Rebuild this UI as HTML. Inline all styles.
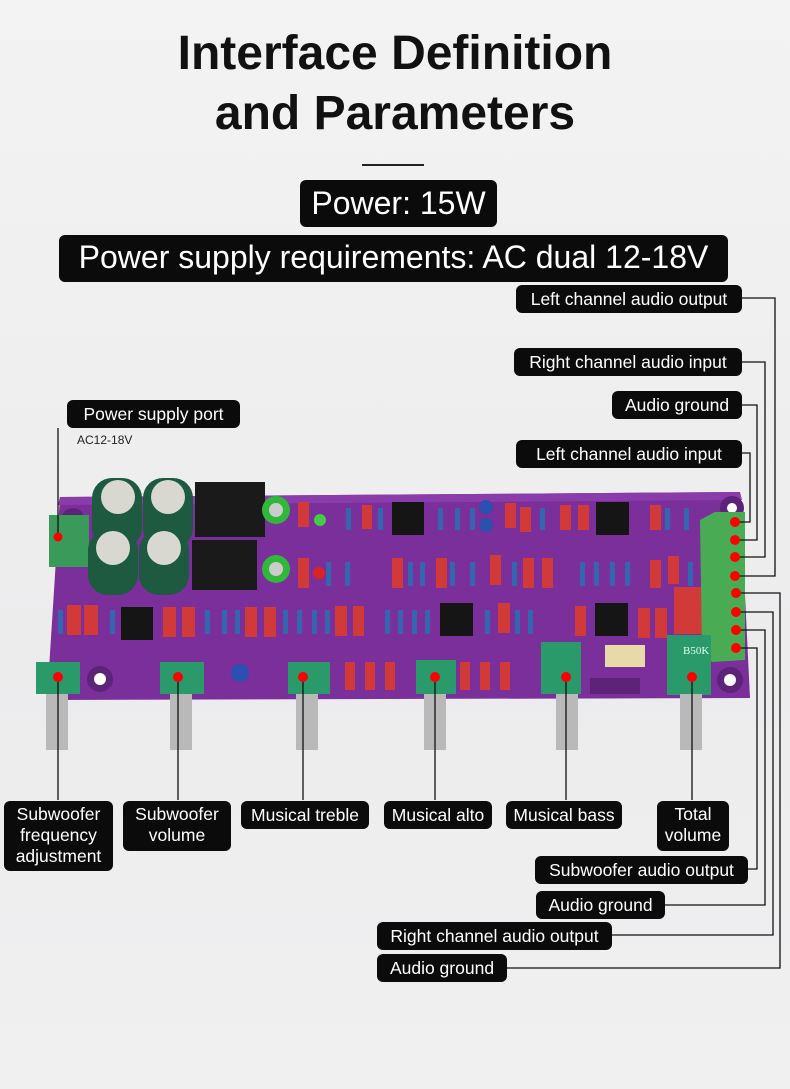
<!DOCTYPE html>
<html><head><style>
body{margin:0;width:790px;height:1089px;overflow:hidden;background:linear-gradient(180deg,#f3f3f3,#ececed 60%,#f0f0f1);font-family:"Liberation Sans",sans-serif;position:relative}
.t{position:absolute;left:0;width:790px;text-align:center;font-size:48px;color:#111;font-weight:bold}
.b{position:absolute;background:#0b0b0b;color:#fff;border-radius:6px;text-align:center;white-space:nowrap}
.s{font-size:17.5px;line-height:22px;padding:3px 0}
.w{white-space:normal}
</style></head><body>
<div class="t" style="top:26px">Interface Definition</div>
<div class="t" style="top:86px">and Parameters</div>
<div style="position:absolute;left:362px;top:164px;width:62px;height:2px;background:#222"></div>
<div class="b" style="left:300px;top:180px;width:197px;height:47px;line-height:47px;font-size:32px">Power: 15W</div>
<div class="b" style="left:59px;top:235px;width:669px;height:47px;line-height:44px;font-size:32px">Power supply requirements: AC dual 12-18V</div>

<svg style="position:absolute;left:0;top:0" width="790" height="1089">
<polygon points="60,497 740,492 750,698 47,700" fill="#7a2f9a"/>
<polygon points="60,497 740,492 742,500 58,505" fill="#8a3caa"/>
<circle cx="73" cy="520" r="12" fill="#5d2378"/><circle cx="73" cy="520" r="5" fill="#fff"/>
<circle cx="732" cy="508" r="12" fill="#5d2378"/><circle cx="732" cy="508" r="5" fill="#fff"/>
<circle cx="100" cy="679" r="13" fill="#5d2378"/><circle cx="100" cy="679" r="6" fill="#fff"/>
<circle cx="730" cy="680" r="13" fill="#5d2378"/><circle cx="730" cy="680" r="6" fill="#fff"/>
<rect x="49" y="515" width="40" height="52" fill="#3a9a5a"/>
<g fill="#1d5a3f"><rect x="92" y="478" width="50" height="70" rx="20"/><rect x="143" y="478" width="50" height="70" rx="20"/><rect x="88" y="530" width="50" height="65" rx="20"/><rect x="139" y="530" width="50" height="65" rx="20"/></g>
<g fill="#d8d8d0"><circle cx="118" cy="497" r="17"/><circle cx="168" cy="497" r="17"/><circle cx="113" cy="548" r="17"/><circle cx="164" cy="548" r="17"/></g>
<rect x="195" y="482" width="70" height="55" fill="#1a1a1a"/><rect x="192" y="540" width="65" height="50" fill="#1a1a1a"/>
<circle cx="276" cy="510" r="14" fill="#2fb83a"/><circle cx="276" cy="569" r="14" fill="#2fb83a"/>
<circle cx="276" cy="510" r="7" fill="#ccc"/><circle cx="276" cy="569" r="7" fill="#ccc"/>
<g fill="#151515"><rect x="392" y="502" width="32" height="33"/><rect x="596" y="502" width="33" height="33"/><rect x="121" y="607" width="32" height="33"/><rect x="440" y="603" width="33" height="33"/><rect x="595" y="603" width="33" height="33"/></g>
<g fill="#d23a3a">
<rect x="298" y="502" width="11" height="25"/><rect x="362" y="505" width="10" height="24"/><rect x="505" y="503" width="11" height="25"/><rect x="520" y="507" width="11" height="25"/><rect x="560" y="505" width="11" height="25"/><rect x="578" y="505" width="11" height="25"/><rect x="650" y="505" width="11" height="25"/>
<rect x="298" y="558" width="11" height="30"/><rect x="392" y="558" width="11" height="30"/><rect x="436" y="558" width="11" height="30"/><rect x="490" y="555" width="11" height="30"/><rect x="523" y="558" width="11" height="30"/><rect x="542" y="558" width="11" height="30"/><rect x="650" y="560" width="11" height="28"/><rect x="668" y="556" width="11" height="28"/>
<rect x="67" y="605" width="14" height="30"/><rect x="84" y="605" width="14" height="30"/><rect x="163" y="607" width="13" height="30"/><rect x="182" y="607" width="13" height="30"/><rect x="245" y="607" width="12" height="30"/><rect x="264" y="607" width="12" height="30"/><rect x="335" y="606" width="12" height="30"/><rect x="353" y="606" width="11" height="30"/><rect x="498" y="603" width="12" height="30"/><rect x="575" y="606" width="11" height="30"/><rect x="638" y="608" width="12" height="30"/><rect x="655" y="608" width="12" height="30"/>
<rect x="674" y="587" width="35" height="25"/><rect x="674" y="609" width="35" height="25"/>
<rect x="345" y="662" width="10" height="28"/><rect x="365" y="662" width="10" height="28"/><rect x="385" y="662" width="10" height="28"/><rect x="460" y="662" width="10" height="28"/><rect x="480" y="662" width="10" height="28"/><rect x="500" y="662" width="10" height="28"/>
</g>
<g fill="#3466b0">
<rect x="346" y="508" width="5" height="22"/><rect x="378" y="508" width="5" height="22"/><rect x="438" y="508" width="5" height="22"/><rect x="455" y="508" width="5" height="22"/><rect x="470" y="508" width="5" height="22"/><rect x="540" y="508" width="5" height="22"/><rect x="665" y="508" width="5" height="22"/><rect x="684" y="508" width="5" height="22"/>
<rect x="326" y="562" width="5" height="24"/><rect x="345" y="562" width="5" height="24"/><rect x="408" y="562" width="5" height="24"/><rect x="420" y="562" width="5" height="24"/><rect x="450" y="562" width="5" height="24"/><rect x="470" y="562" width="5" height="24"/><rect x="512" y="562" width="5" height="24"/><rect x="580" y="562" width="5" height="24"/><rect x="594" y="562" width="5" height="24"/><rect x="610" y="562" width="5" height="24"/><rect x="625" y="562" width="5" height="24"/><rect x="688" y="562" width="5" height="24"/>
<rect x="58" y="610" width="5" height="24"/><rect x="110" y="610" width="5" height="24"/><rect x="205" y="610" width="5" height="24"/><rect x="222" y="610" width="5" height="24"/><rect x="235" y="610" width="5" height="24"/><rect x="283" y="610" width="5" height="24"/><rect x="297" y="610" width="5" height="24"/><rect x="312" y="610" width="5" height="24"/><rect x="325" y="610" width="5" height="24"/><rect x="385" y="610" width="5" height="24"/><rect x="398" y="610" width="5" height="24"/><rect x="412" y="610" width="5" height="24"/><rect x="425" y="610" width="5" height="24"/><rect x="485" y="610" width="5" height="24"/><rect x="515" y="610" width="5" height="24"/><rect x="528" y="610" width="5" height="24"/>
</g>
<circle cx="486" cy="507" r="7" fill="#2a50b0"/><circle cx="486" cy="525" r="7" fill="#2a50b0"/><circle cx="240" cy="673" r="9" fill="#2a50b0"/>
<circle cx="320" cy="520" r="6" fill="#4c4"/><circle cx="319" cy="573" r="6" fill="#d22"/>
<rect x="605" y="645" width="40" height="22" fill="#e8d9a8"/>
<rect x="590" y="678" width="50" height="16" fill="#5d2378"/>
<polygon points="700,520 715,512 745,512 745,660 712,662 702,652" fill="#4aab55"/>
<g fill="#2b9a6a"><rect x="36" y="662" width="44" height="32"/><rect x="160" y="662" width="44" height="32"/><rect x="288" y="662" width="42" height="32"/><rect x="416" y="660" width="40" height="34"/><rect x="541" y="642" width="40" height="52"/><rect x="667" y="635" width="44" height="60"/></g>
<g fill="#b9b9b9"><rect x="46" y="694" width="22" height="56"/><rect x="170" y="694" width="22" height="56"/><rect x="296" y="694" width="22" height="56"/><rect x="424" y="694" width="22" height="56"/><rect x="556" y="694" width="22" height="56"/><rect x="680" y="694" width="22" height="56"/></g>
<text x="683" y="654" font-size="11" fill="#dfe" font-family="Liberation Serif">B50K</text>
<g stroke="#111" stroke-width="1.3" fill="none">
<polyline points="58,537 58,428"/>
<polyline points="742,298 775,298 775,576 736,576"/>
<polyline points="742,362 765,362 765,557 736,557"/>
<polyline points="742,405 757,405 757,540 736,540"/>
<polyline points="742,453 750,453 750,522 736,522"/>
<polyline points="736,593 780,593 780,968 507,968"/>
<polyline points="736,612 773,612 773,935 612,935"/>
<polyline points="736,630 765,630 765,905 665,905"/>
<polyline points="736,648 757,648 757,869 748,869"/>
<line x1="58" y1="677" x2="58" y2="800"/><line x1="178" y1="677" x2="178" y2="800"/><line x1="303" y1="677" x2="303" y2="800"/><line x1="435" y1="677" x2="435" y2="800"/><line x1="566" y1="677" x2="566" y2="800"/><line x1="692" y1="677" x2="692" y2="800"/>
</g>
<g fill="#f00"><circle cx="58" cy="537" r="4.5"/>
<circle cx="735" cy="522" r="5"/><circle cx="735" cy="540" r="5"/><circle cx="735" cy="557" r="5"/><circle cx="735" cy="576" r="5"/><circle cx="736" cy="593" r="5"/><circle cx="736" cy="612" r="5"/><circle cx="736" cy="630" r="5"/><circle cx="736" cy="648" r="5"/>
<circle cx="58" cy="677" r="5"/><circle cx="178" cy="677" r="5"/><circle cx="303" cy="677" r="5"/><circle cx="435" cy="677" r="5"/><circle cx="566" cy="677" r="5"/><circle cx="692" cy="677" r="5"/></g>
</svg>

<div class="b s" style="left:516px;top:285px;width:226px">Left channel audio output</div>
<div class="b s" style="left:514px;top:348px;width:228px">Right channel audio input</div>
<div class="b s" style="left:612px;top:391px;width:130px">Audio ground</div>
<div class="b s" style="left:516px;top:440px;width:226px">Left channel audio input</div>
<div class="b s" style="left:67px;top:400px;width:173px">Power supply port</div>
<div style="position:absolute;left:77px;top:433px;font-size:12px;color:#222">AC12-18V</div>

<div class="b s w" style="left:4px;top:801px;width:109px;height:64px;line-height:21px">Subwoofer frequency adjustment</div>
<div class="b s w" style="left:123px;top:801px;width:108px;height:44px;line-height:21px">Subwoofer volume</div>
<div class="b s" style="left:241px;top:801px;width:128px">Musical treble</div>
<div class="b s" style="left:384px;top:801px;width:108px">Musical alto</div>
<div class="b s" style="left:506px;top:801px;width:116px">Musical bass</div>
<div class="b s w" style="left:657px;top:801px;width:72px;height:44px;line-height:21px">Total volume</div>
<div class="b s" style="left:535px;top:856px;width:213px">Subwoofer audio output</div>
<div class="b s" style="left:536px;top:891px;width:129px">Audio ground</div>
<div class="b s" style="left:377px;top:922px;width:235px">Right channel audio output</div>
<div class="b s" style="left:377px;top:954px;width:130px">Audio ground</div>
</body></html>
